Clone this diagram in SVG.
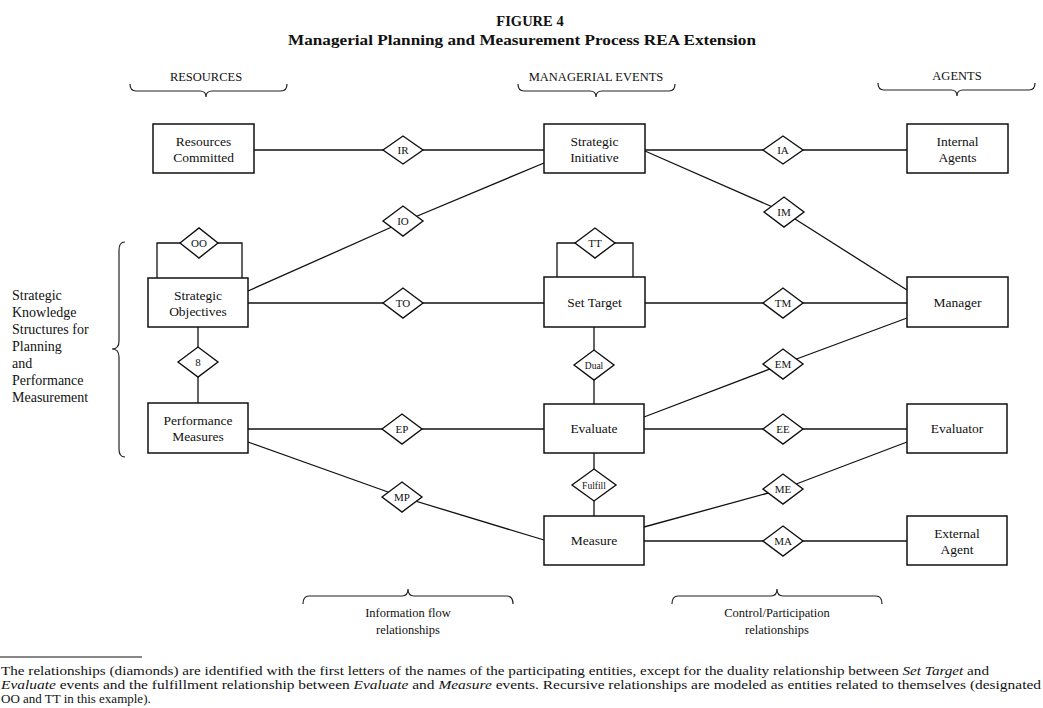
<svg xmlns="http://www.w3.org/2000/svg" width="1043" height="708" viewBox="0 0 1043 708">
<style>
text{font-family:"Liberation Serif","Times New Roman",serif;fill:#111}
.t{font-weight:bold;font-size:14.5px;text-anchor:middle}
.h{font-size:12.5px;text-anchor:middle}
.n{font-size:13.5px;text-anchor:middle}
.d{font-size:11px;text-anchor:middle}
.ds{font-size:9.5px;text-anchor:middle}
.l{font-size:14px}
.f{font-size:13px}
.box{fill:#fff;stroke:#111;stroke-width:1.5}
.rel{fill:#fff;stroke:#111;stroke-width:1.4}
.c{fill:none;stroke:#111;stroke-width:1.3}
.br{fill:none;stroke:#222;stroke-width:1.2}
</style>
<rect width="1043" height="708" fill="#fff"/>
<text class="t" x="530" y="26">FIGURE 4</text>
<text class="t" x="522" y="45" textLength="468" lengthAdjust="spacingAndGlyphs">Managerial Planning and Measurement Process REA Extension</text>
<g id="headers">
<text class="h" x="206" y="81">RESOURCES</text>
<text class="h" x="596" y="81">MANAGERIAL EVENTS</text>
<text class="h" x="957" y="80">AGENTS</text>
<path class="br" d="M130,84 Q130,91 136,91 L200,91 Q206,91 206,97 Q206,91 212,91 L281,91 Q287,91 287,84"/>
<path class="br" d="M518,84 Q518,91 524,91 L590,91 Q596,91 596,97 Q596,91 602,91 L669,91 Q675,91 675,84"/>
<path class="br" d="M878,83 Q878,90 884,90 L951,90 Q957,90 957,96 Q957,90 963,90 L1029,90 Q1035,90 1035,83"/>
</g>
<g id="left-label">
<path class="br" d="M125,242 Q119,242 119,250 L119,341 Q119,349 112,349 Q119,349 119,357 L119,449 Q119,457 125,457"/>
<text class="l" x="12" y="300">Strategic</text>
<text class="l" x="12" y="317">Knowledge</text>
<text class="l" x="12" y="334">Structures for</text>
<text class="l" x="12" y="351">Planning</text>
<text class="l" x="12" y="368">and</text>
<text class="l" x="12" y="385">Performance</text>
<text class="l" x="12" y="402">Measurement</text>
</g>
<g id="connectors">
<line class="c" x1="254" y1="150" x2="544" y2="150"/>
<line class="c" x1="645" y1="150" x2="907" y2="150"/>
<polyline class="c" points="248,291 403,222 544,163"/>
<polyline class="c" points="645,151 784,212 907,290"/>
<polyline class="c" points="157,278 157,243 242,243 242,278"/>
<polyline class="c" points="557,277 557,243 633,243 633,277"/>
<line class="c" x1="248" y1="303" x2="544" y2="303"/>
<line class="c" x1="645" y1="303" x2="907" y2="303"/>
<line class="c" x1="198" y1="327" x2="198" y2="403"/>
<line class="c" x1="594" y1="327" x2="594" y2="404"/>
<polyline class="c" points="644,417 783,364 907,318"/>
<line class="c" x1="248" y1="429" x2="544" y2="429"/>
<line class="c" x1="644" y1="429" x2="907" y2="429"/>
<line class="c" x1="594" y1="453" x2="594" y2="516"/>
<polyline class="c" points="248,442 402,497 544,540"/>
<polyline class="c" points="644,527 783,489 907,442"/>
<line class="c" x1="644" y1="541" x2="907" y2="541"/>
</g>
<g id="resources-committed"><rect class="box" x="153" y="124" width="101" height="49"/><text class="n" x="203.5" y="146">Resources</text><text class="n" x="203.5" y="162">Committed</text></g>
<g id="strategic-initiative"><rect class="box" x="544" y="124" width="101" height="49"/><text class="n" x="594.5" y="146">Strategic</text><text class="n" x="594.5" y="162">Initiative</text></g>
<g id="internal-agents"><rect class="box" x="907" y="124" width="101" height="49"/><text class="n" x="957.5" y="146">Internal</text><text class="n" x="957.5" y="162">Agents</text></g>
<g id="strategic-objectives"><rect class="box" x="148" y="278" width="100" height="49"/><text class="n" x="198" y="300">Strategic</text><text class="n" x="198" y="316">Objectives</text></g>
<g id="set-target"><rect class="box" x="544" y="277" width="101" height="50"/><text class="n" x="594.5" y="307">Set Target</text></g>
<g id="manager"><rect class="box" x="907" y="277" width="101" height="50"/><text class="n" x="957.5" y="307">Manager</text></g>
<g id="performance-measures"><rect class="box" x="148" y="403" width="100" height="50"/><text class="n" x="198" y="425">Performance</text><text class="n" x="198" y="441">Measures</text></g>
<g id="evaluate"><rect class="box" x="544" y="404" width="100" height="49"/><text class="n" x="594" y="433">Evaluate</text></g>
<g id="evaluator"><rect class="box" x="907" y="404" width="100" height="49"/><text class="n" x="957" y="433">Evaluator</text></g>
<g id="measure"><rect class="box" x="544" y="516" width="100" height="49"/><text class="n" x="594" y="545">Measure</text></g>
<g id="external-agent"><rect class="box" x="907" y="516" width="100" height="49"/><text class="n" x="957" y="538">External</text><text class="n" x="957" y="554">Agent</text></g>
<g id="rel-IR"><polygon class="rel" points="383,150 403,136 423,150 403,164"/><text class="d" x="403" y="154">IR</text></g>
<g id="rel-IA"><polygon class="rel" points="763,150 783,136 803,150 783,164"/><text class="d" x="783" y="154">IA</text></g>
<g id="rel-IO"><polygon class="rel" points="383,221 403,206 423,221 403,236"/><text class="d" x="403" y="225">IO</text></g>
<g id="rel-IM"><polygon class="rel" points="764,212 784,197 804,212 784,227"/><text class="d" x="784" y="216">IM</text></g>
<g id="rel-OO"><polygon class="rel" points="180,243 199,228 218,243 199,258"/><text class="d" x="199" y="247">OO</text></g>
<g id="rel-TT"><polygon class="rel" points="575,243 595,228 615,243 595,258"/><text class="d" x="595" y="247">TT</text></g>
<g id="rel-TO"><polygon class="rel" points="383,303 403,288 423,303 403,318"/><text class="d" x="403" y="307">TO</text></g>
<g id="rel-TM"><polygon class="rel" points="763,303 783,288 803,303 783,318"/><text class="d" x="783" y="307">TM</text></g>
<g id="rel-8"><polygon class="rel" points="178,362 198,347 218,362 198,377"/><text class="d" x="198" y="366">8</text></g>
<g id="rel-Dual"><polygon class="rel" points="574,365 594,350 614,365 594,380"/><text class="ds" x="594" y="369">Dual</text></g>
<g id="rel-EM"><polygon class="rel" points="763,364 783,349 803,364 783,379"/><text class="d" x="783" y="368">EM</text></g>
<g id="rel-EP"><polygon class="rel" points="382,429 402,414 422,429 402,444"/><text class="d" x="402" y="433">EP</text></g>
<g id="rel-EE"><polygon class="rel" points="763,429 783,414 803,429 783,444"/><text class="d" x="783" y="433">EE</text></g>
<g id="rel-Fulfill"><polygon class="rel" points="572,485 594,469 616,485 594,501"/><text class="ds" x="594" y="489">Fulfill</text></g>
<g id="rel-MP"><polygon class="rel" points="382,497 402,482 422,497 402,512"/><text class="d" x="402" y="501">MP</text></g>
<g id="rel-ME"><polygon class="rel" points="763,489 783,474 803,489 783,504"/><text class="d" x="783" y="493">ME</text></g>
<g id="rel-MA"><polygon class="rel" points="763,541 783,526 803,541 783,556"/><text class="d" x="783" y="545">MA</text></g>
<g id="bottom-labels">
<path class="br" d="M303,604 Q303,596 309,596 L402,596 Q408,596 408,589 Q408,596 414,596 L507,596 Q513,596 513,604"/>
<path class="br" d="M672,604 Q672,596 678,596 L771,596 Q777,596 777,589 Q777,596 783,596 L876,596 Q882,596 882,604"/>
<text class="h" x="408" y="617">Information flow</text>
<text class="h" x="408" y="634">relationships</text>
<text class="h" x="777" y="617">Control/Participation</text>
<text class="h" x="777" y="634">relationships</text>
</g>
<g id="footnote">
<line x1="0" y1="657" x2="142" y2="657" stroke="#111" stroke-width="1.2"/>
<text class="f" x="1" y="675" textLength="988" lengthAdjust="spacingAndGlyphs">The relationships (diamonds) are identified with the first letters of the names of the participating entities, except for the duality relationship between <tspan font-style="italic">Set Target</tspan> and</text>
<text class="f" x="1" y="689" textLength="1040" lengthAdjust="spacingAndGlyphs"><tspan font-style="italic">Evaluate</tspan> events and the fulfillment relationship between <tspan font-style="italic">Evaluate</tspan> and <tspan font-style="italic">Measure</tspan> events. Recursive relationships are modeled as entities related to themselves (designated</text>
<text class="f" x="1" y="703">OO and TT in this example).</text>
</g>
</svg>
